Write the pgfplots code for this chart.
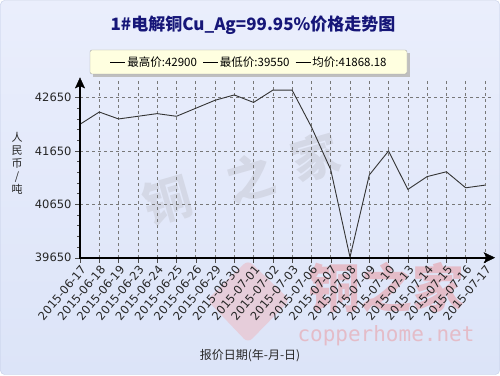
\documentclass[border=0pt]{standalone}
\usepackage{pgfplots}
\pgfplotsset{compat=1.18}
\usepackage{fontspec}
\setmainfont{DejaVu Sans}
\newfontfamily\cjk{Noto Sans CJK SC}
\newfontfamily\mono{DejaVu Sans Mono}
\definecolor{bgtop}{RGB}{234,238,252}
\definecolor{bgbot}{RGB}{220,228,248}
\definecolor{bordc}{RGB}{195,205,230}
\definecolor{titlecol}{RGB}{22,22,120}
\definecolor{legfill}{RGB}{255,255,224}
\definecolor{wmgray}{RGB}{212,216,230}
\definecolor{wmpink}{RGB}{228,188,200}
\definecolor{wmdia}{RGB}{230,205,218}
\definecolor{gridc}{RGB}{120,120,120}
\begin{document}
\begin{tikzpicture}
\path[use as bounding box] (0,0) rectangle (500pt,375pt);
\shade[top color=bgtop, bottom color=bgbot, rounded corners=4pt] (0.5pt,0.5pt) rectangle (499.5pt,374.5pt);
\draw[bordc, rounded corners=4pt] (0.5pt,0.5pt) rectangle (499.5pt,374.5pt);
% watermarks
\node[text=wmgray, rotate=16, font=\cjk\bfseries\fontsize{48}{48}\selectfont] at (168pt,175pt) {铜};
\node[text=wmgray, rotate=16, font=\cjk\bfseries\fontsize{48}{48}\selectfont] at (250pt,197pt) {之};
\node[text=wmgray, rotate=16, font=\cjk\bfseries\fontsize{48}{48}\selectfont] at (315pt,218pt) {家};
\fill[wmdia, rounded corners=6pt] (248pt,115pt) -- (290pt,75pt) -- (248pt,32pt) -- (207pt,75pt) -- cycle;
\node[text=wmpink, font=\cjk\bfseries\fontsize{52}{52}\selectfont] at (386pt,88pt) {铜之家};
\node[text=wmpink, font=\mono\fontsize{21}{21}\selectfont] at (386pt,39pt) {copperhome.net};
% title
\node[font=\cjk\bfseries\fontsize{17}{17}\selectfont, text=titlecol] at (253pt,350pt) {1\#电解铜Cu\_Ag=99.95\%价格走势图};
% legend
\fill[gray!50] (93pt,298pt) rectangle (410pt,322pt);
\node[draw=gray!70, fill=legfill, rounded corners=2pt, minimum width=317pt, minimum height=24pt, inner sep=0pt, font=\cjk\fontsize{11.5}{11.5}\selectfont] at (248.5pt,313pt)
{\rule[3.5pt]{15pt}{0.6pt}\,最高价:42900\hspace{6pt}\rule[3.5pt]{15pt}{0.6pt}\,最低价:39550\hspace{6pt}\rule[3.5pt]{15pt}{0.6pt}\,均价:41868.18};
% y label
\node[font=\cjk\fontsize{11}{13}\selectfont, align=center, text=black!85] at (17pt,212pt) {人\\民\\币\\/\\吨};
% x label
\node[font=\cjk\fontsize{12}{12}\selectfont, text=black!85] at (250pt,19pt) {报价日期(年-月-日)};
\begin{axis}[
  scale only axis, width=412.7pt, height=177.7pt,
  at={(80pt,117.3pt)}, anchor=south west,
  xmin=0, xmax=21.4, ymin=39650, ymax=42980,
  axis x line*=bottom, axis y line*=left,
  axis line style={black, line width=2pt, -},
  xtick={0,...,21},
  xticklabels={2015-06-17,2015-06-18,2015-06-19,2015-06-23,2015-06-24,2015-06-25,2015-06-26,2015-06-29,2015-06-30,2015-07-01,2015-07-02,2015-07-03,2015-07-06,2015-07-07,2015-07-08,2015-07-09,2015-07-10,2015-07-13,2015-07-14,2015-07-15,2015-07-16,2015-07-17},
  x tick label style={rotate=50, anchor=north east, font=\fontsize{11.5}{11.5}\selectfont, text=black!85, inner sep=1pt},
  ytick={39650,40650,41650,42650},
  scaled y ticks=false,
  y tick label style={font=\fontsize{11.5}{11.5}\selectfont, text=black!85},
  minor y tick num=4,
  tick align=outside,
  major tick length=5pt, minor tick length=3pt,
  tick style={black!70, thin},
  grid=major,
  major grid style={dashed, gridc, line width=0.5pt},
  /pgf/number format/assume math mode=true,
  /pgf/number format/1000 sep={},
  clip=false,
]
\addplot[black!80, line width=0.9pt, mark=none] coordinates {
(0,42150) (1,42380) (2,42250) (3,42300) (4,42350) (5,42300) (6,42450) (7,42600) (8,42700) (9,42560) (10,42790) (11,42790) (12,42100) (13,41300) (14,39660) (15,41200) (16,41650) (17,40930) (18,41170) (19,41260) (20,40960) (21,41010)
};
% axis lines and arrow heads
\addplot[black, line width=1.8pt, mark=none, forget plot] coordinates {(-0.05,39650) (21.1,39650)};
\addplot[black, line width=1.8pt, mark=none, forget plot] coordinates {(0,39630) (0,42880)};
\addplot[fill=black, draw=black, mark=none, forget plot] coordinates {(21.5,39650) (20.95,39745) (21.1,39650) (20.95,39555)} -- cycle;
\addplot[fill=black, draw=black, mark=none, forget plot] coordinates {(0,43020) (-0.24,42830) (0,42870) (0.24,42830)} -- cycle;
\end{axis}
\end{tikzpicture}
\end{document}
